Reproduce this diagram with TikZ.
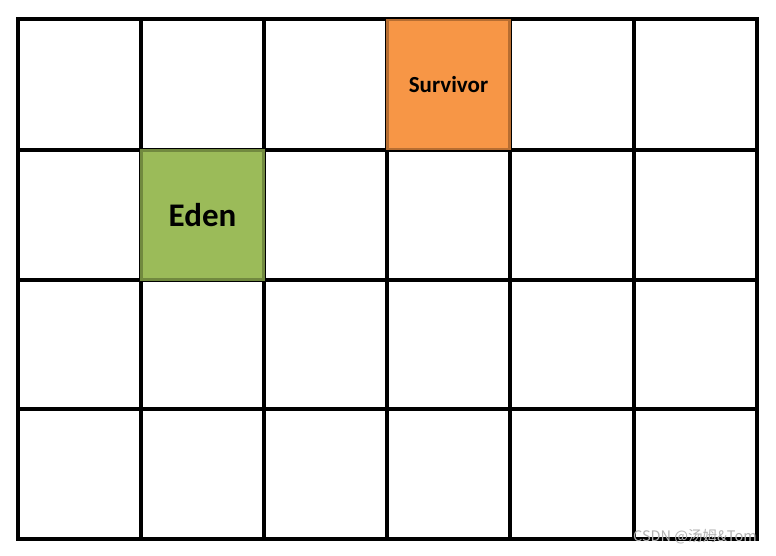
\documentclass[tikz,border=0pt]{standalone}
\usepackage{fontspec}
\setmainfont{Carlito}
\newfontfamily\cjkfont{Noto Sans CJK SC}
\definecolor{edenfill}{HTML}{9BBB59}
\definecolor{edenedge}{HTML}{71893F}
\definecolor{survfill}{HTML}{F79646}
\definecolor{survedge}{HTML}{B66D31}
\begin{document}
\begin{tikzpicture}[x=1pt,y=-1pt,
  gridline/.style={line width=3.3pt,black},
  region/.style={draw,line width=2.2pt,minimum width=122pt,minimum height=129pt,inner sep=0pt,font=\bfseries}]
\useasboundingbox (0,0) rectangle (776,555);
\fill[white] (0,0) rectangle (776,555);
% heap grid: 6 columns x 4 rows
\foreach \gx in {18,141,264,387,510,634,757}
  \draw[gridline] (\gx,17.4) -- (\gx,540.6);
\foreach \gy in {19,150,280,409,539}
  \draw[gridline] (16.4,\gy) -- (758.6,\gy);
% regions
\node[region,draw=edenedge,fill=edenfill,font=\bfseries\fontsize{33}{33}\selectfont] (eden) at (202.5,215) {Eden};
\node[region,draw=survedge,fill=survfill,font=\bfseries\fontsize{23}{23}\selectfont] (surv) at (448.5,84.5) {Survivor};
% watermark
\node[text=gray!60,font=\cjkfont\fontsize{14.5}{14.5}\selectfont,anchor=east,inner sep=0pt] (wm) at (757,537) {CSDN @汤姆\&Tom};
\end{tikzpicture}
\end{document}
